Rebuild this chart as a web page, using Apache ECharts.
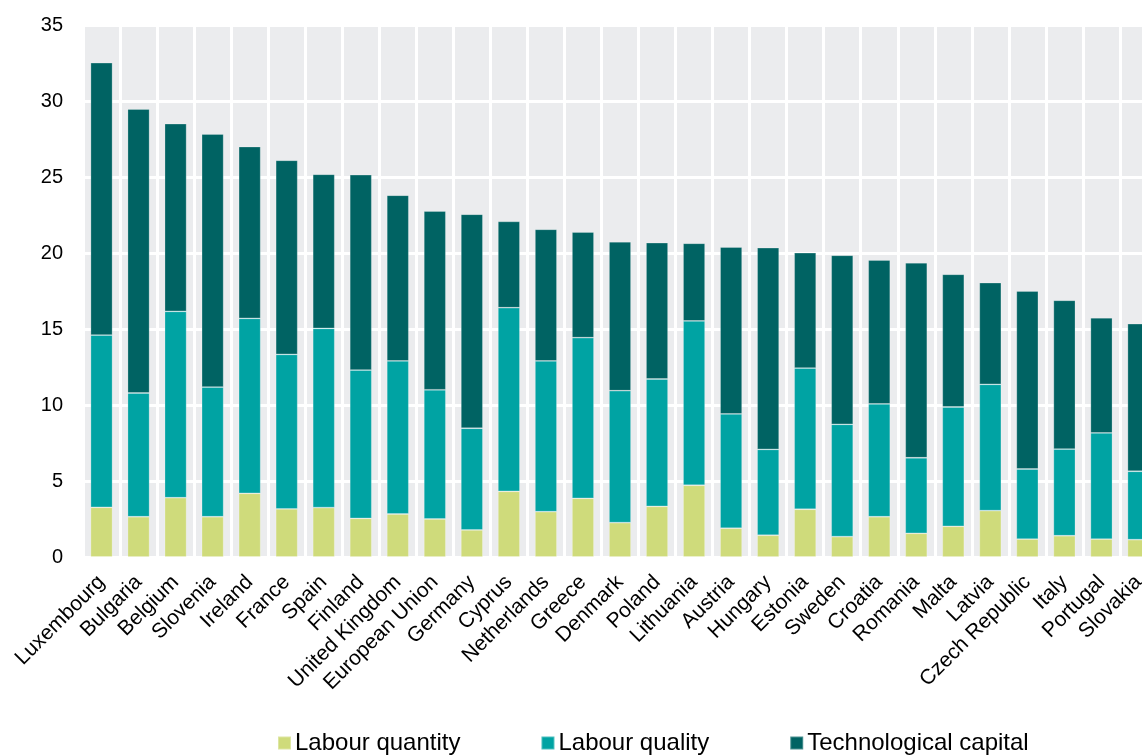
<!DOCTYPE html>
<html>
<head>
<meta charset="utf-8">
<title>Labour productivity growth decomposition</title>
<script src="https://cdn.jsdelivr.net/npm/echarts@6/dist/echarts.min.js"></script>
<style>
  html, body { margin: 0; padding: 0; background: #ffffff; overflow: hidden; }
  #chart { width: 1142px; height: 756px; }
</style>
</head>
<body>
<div id="chart"></div>
<script>
// Countries, ordered by total contribution
const countries = [
  'Luxembourg', 'Bulgaria', 'Belgium', 'Slovenia', 'Ireland', 'France', 'Spain',
  'Finland', 'United Kingdom', 'European Union', 'Germany', 'Cyprus', 'Netherlands',
  'Greece', 'Denmark', 'Poland', 'Lithuania', 'Austria', 'Hungary', 'Estonia',
  'Sweden', 'Croatia', 'Romania', 'Malta', 'Latvia', 'Czech Republic', 'Italy',
  'Portugal', 'Slovakia'
];

// Stacked components
const labourQuantity = [
  3.27, 2.65, 3.90, 2.65, 4.19, 3.16, 3.25, 2.54, 2.83, 2.50, 1.78, 4.32, 2.98,
  3.86, 2.26, 3.33, 4.72, 1.89, 1.43, 3.14, 1.34, 2.65, 1.56, 2.02, 3.05, 1.18,
  1.40, 1.18, 1.14
];
const labourQuality = [
  11.33, 8.14, 12.26, 8.53, 11.51, 10.17, 11.79, 9.76, 10.07, 8.50, 6.69, 12.08,
  9.92, 10.57, 8.68, 8.38, 10.81, 7.52, 5.65, 9.29, 7.39, 7.42, 4.97, 7.85, 8.31,
  4.61, 5.70, 6.98, 4.50
];
const technologicalCapital = [
  17.92, 18.68, 12.35, 16.65, 11.30, 12.77, 10.14, 12.85, 10.90, 11.76, 14.08,
  5.68, 8.66, 6.95, 9.80, 8.97, 5.11, 10.98, 13.27, 7.59, 11.12, 9.47, 12.83,
  8.73, 6.69, 11.71, 9.79, 7.58, 9.71
];

const yTicks = { min: 0, max: 35, interval: 5 };

const FONT = '"Liberation Sans", Arial, Helvetica, sans-serif';
const colours = ['#cfdb7b', '#00a3a3', '#006363'];

const chart = echarts.init(document.getElementById('chart'), null, { renderer: 'canvas' });

function barSeries(name, data, colour) {
  return {
    name: name,
    type: 'bar',
    stack: 'total',
    barWidth: 22,
    data: data,
    itemStyle: {
      color: colour,
      borderColor: 'rgba(255,255,255,0.3)',
      borderWidth: 0.8
    },
    emphasis: { disabled: true }
  };
}

chart.setOption({
  animation: false,
  backgroundColor: '#ffffff',
  textStyle: { fontFamily: FONT },
  // the plot runs a little past the right edge of the canvas
  grid: {
    left: 83,
    width: 1074,
    top: 25,
    height: 532,
    show: true,
    backgroundColor: '#ebecee',
    borderWidth: 0,
    containLabel: false,
    outerBoundsMode: 'none'
  },
  legend: {
    left: 277,
    top: 731,
    padding: 0,
    itemWidth: 13,
    itemHeight: 13,
    itemGap: 80,
    icon: 'rect',
    textStyle: { fontSize: 24, color: '#000', fontFamily: FONT, padding: [0, 0, 0, -1] },
    data: ['Labour quantity', 'Labour quality', 'Technological capital']
  },
  xAxis: {
    type: 'category',
    data: countries,
    boundaryGap: true,
    axisLine: { show: false },
    axisTick: { show: false },
    splitLine: {
      show: true,
      interval: 0,
      lineStyle: { color: '#ffffff', width: 3 }
    },
    axisLabel: {
      interval: 0,
      rotate: 45,
      margin: 22,
      fontSize: 21,
      color: '#000',
      fontFamily: FONT
    }
  },
  yAxis: {
    type: 'value',
    min: yTicks.min,
    max: yTicks.max,
    interval: yTicks.interval,
    axisLine: { show: false },
    axisTick: { show: false },
    splitLine: { lineStyle: { color: '#ffffff', width: 3 } },
    axisLabel: {
      margin: 20,
      fontSize: 20,
      color: '#000',
      fontFamily: FONT
    }
  },
  series: [
    barSeries('Labour quantity', labourQuantity, colours[0]),
    barSeries('Labour quality', labourQuality, colours[1]),
    barSeries('Technological capital', technologicalCapital, colours[2])
  ]
});
</script>
</body>
</html>
